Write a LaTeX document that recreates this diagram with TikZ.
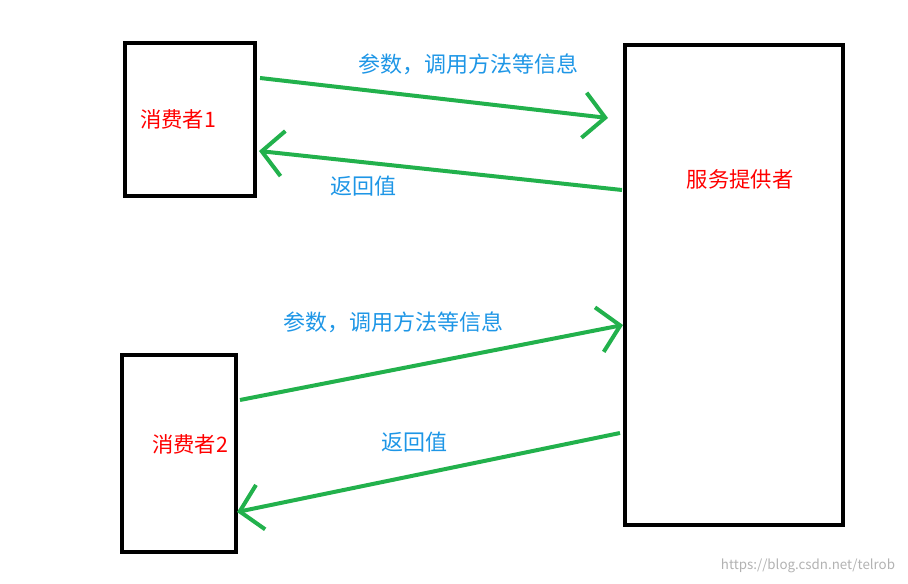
\documentclass[tikz,border=0pt]{standalone}
\usepackage{fontspec}
\setmainfont{Noto Sans CJK SC}
\usetikzlibrary{arrows.meta}
\definecolor{arrowgreen}{RGB}{34,177,76}
\definecolor{labelblue}{RGB}{30,150,230}
\tikzset{
  party/.style={draw, line width=3pt, inner sep=0pt},
  call/.style={draw=arrowgreen, line width=3pt, -{Straight Barb[length=16pt,width=34pt,line width=3pt]}},
  msg/.style={text=labelblue, font=\fontsize{16.5}{19}\selectfont},
  who/.style={text=red, font=\fontsize{16}{19}\selectfont}
}
\begin{document}
\begin{tikzpicture}[x=0.75pt,y=-0.75pt]
\useasboundingbox (0,0) rectangle (908,584);
% Boxes
\draw[party] (125,43) rectangle (255,196);
\draw[party] (122,355) rectangle (236,552);
\draw[party] (625,45) rectangle (843,525);
\node[who] (c1) at (178,119) {消费者1};
\node[who] (c2) at (190,444) {消费者2};
\node[who] (sp) at (740,179) {服务提供者};

% Call and return arrows
\coordinate (a1) at (260,78);  \coordinate (b1) at (608,118);
\coordinate (a2) at (622,190); \coordinate (b2) at (259,151);
\coordinate (a3) at (240,400); \coordinate (b3) at (623,325);
\coordinate (a4) at (620,433); \coordinate (b4) at (237,512);
\draw[call] (a1) -- (b1);
\draw[call] (a2) -- (b2);
\draw[call] (a3) -- (b3);
\draw[call] (a4) -- (b4);

% Labels
\node[msg] (m1) at (468,64) {参数，调用方法等信息};
\node[msg] (r1) at (363,186) {返回值};
\node[msg] (m2) at (393,322) {参数，调用方法等信息};
\node[msg] (r2) at (414,442) {返回值};
\node[text=gray!60, font=\fontsize{10}{12}\selectfont] (wm) at (808,566) {https://blog.csdn.net/telrob};
\end{tikzpicture}
\end{document}
